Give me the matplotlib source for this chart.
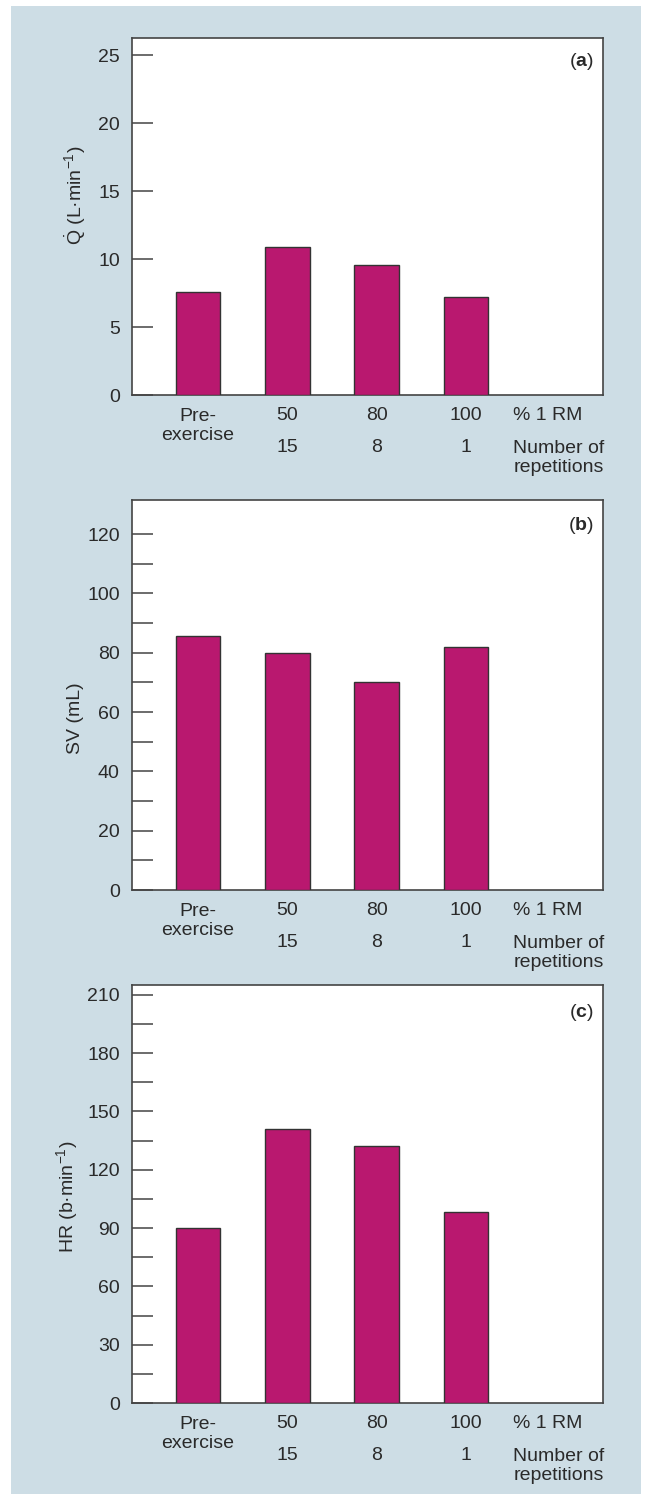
import matplotlib
matplotlib.use("Agg")
import matplotlib.pyplot as plt
from matplotlib.patches import Rectangle
from matplotlib.ticker import MultipleLocator, FixedLocator

plt.rcParams["font.family"] = ["Liberation Sans", "DejaVu Sans"]
plt.rcParams["mathtext.fontset"] = "custom"
plt.rcParams["mathtext.rm"] = "Liberation Sans"
plt.rcParams["mathtext.it"] = "Liberation Sans:italic"
plt.rcParams["mathtext.bf"] = "Liberation Sans:bold"

# data
pct_labels = ["Pre-\nexercise", "50", "80", "100"]
rep_labels = ["", "15", "8", "1"]
q_values = [7.6, 10.9, 9.6, 7.2]        # cardiac output, L/min
sv_values = [85.5, 80, 70, 82]          # stroke volume, mL
hr_values = [90, 141, 132, 98]          # heart rate, b/min

W, H = 650, 1500
BG = "#cddde5"
BAR = "#b9186f"
INK = "#2a2a2a"
LINE = "#444444"
FS = 14

fig = plt.figure(figsize=(W / 100, H / 100), dpi=100, facecolor="white")
fig.patches.append(Rectangle((11 / W, 1 - 1494 / H), 630 / W, 1488 / H,
                             transform=fig.transFigure, facecolor=BG,
                             edgecolor="none", zorder=-10))


def px_axes(top, bottom, left=132.3, right=603.3):
    return fig.add_axes([left / W, 1 - bottom / H, (right - left) / W, (bottom - top) / H])


def draw_panel(ax, values, ylim, major, minor, tag, ylabel, ylabel_xy):
    x = range(len(values))
    ax.bar(x, values, width=0.5, color=BAR, edgecolor="#333333", linewidth=1.0, zorder=3)
    ax.set_xlim(-0.736, 4.54)
    ax.set_ylim(*ylim)
    ax.set_xticks([])
    ax.yaxis.set_major_locator(MultipleLocator(major))
    if minor:
        # minor ticks stop at the last major tick
        top_major = (ylim[1] // major) * major
        ax.yaxis.set_minor_locator(FixedLocator(
            [v * minor for v in range(1, int(top_major / minor)) if (v * minor) % major]))
    ax.tick_params(axis="y", which="both", direction="in", length=15, width=1.1,
                   color=LINE, labelsize=FS, labelcolor=INK, pad=9)
    for sp in ax.spines.values():
        sp.set_color(LINE)
        sp.set_linewidth(1.2)
    ax.set_facecolor("white")

    ax.text(0.9795, 0.935, r"($\mathbf{" + tag + r"}$)", transform=ax.transAxes,
            ha="right", va="center", fontsize=FS, color=INK)

    # two rows of category labels under the axis
    for i, (p, r) in enumerate(zip(pct_labels, rep_labels)):
        off = -31 if "\n" in p else -20
        ax.annotate(p, xy=(i, 0), xycoords=("data", "axes fraction"),
                    xytext=(0, off), textcoords="offset pixels", ha="center",
                    va="center", fontsize=FS, color=INK, linespacing=1.12)
        if r:
            ax.annotate(r, xy=(i, 0), xycoords=("data", "axes fraction"),
                        xytext=(0, -52.3), textcoords="offset pixels", ha="center",
                        va="center", fontsize=FS, color=INK)
    ax.annotate("% 1 RM", xy=(3.53, 0), xycoords=("data", "axes fraction"),
                xytext=(0, -20), textcoords="offset pixels", ha="left",
                va="center", fontsize=FS, color=INK)
    ax.annotate("Number of\nrepetitions", xy=(3.53, 0), xycoords=("data", "axes fraction"),
                xytext=(0, -63), textcoords="offset pixels", ha="left",
                va="center", fontsize=FS, color=INK, linespacing=1.12)

    fig.text(ylabel_xy[0] / W, 1 - ylabel_xy[1] / H, ylabel, rotation=90,
             ha="center", va="center", fontsize=FS, color=INK)


ax_a = px_axes(38, 395)
draw_panel(ax_a, q_values, (0, 26.27), 5, None, "a",
           r"$\dot{\mathrm{Q}}$ (L·min$^{-1}$)", (75, 195))

ax_b = px_axes(500, 890)
draw_panel(ax_b, sv_values, (0, 131.5), 20, 10, "b", "SV (mL)", (75, 718))

ax_c = px_axes(985, 1403)
draw_panel(ax_c, hr_values, (0, 215), 30, 15, "c",
           r"HR (b·min$^{-1}$)", (67, 1197))

fig.savefig("out.png", dpi=100, facecolor="white")
